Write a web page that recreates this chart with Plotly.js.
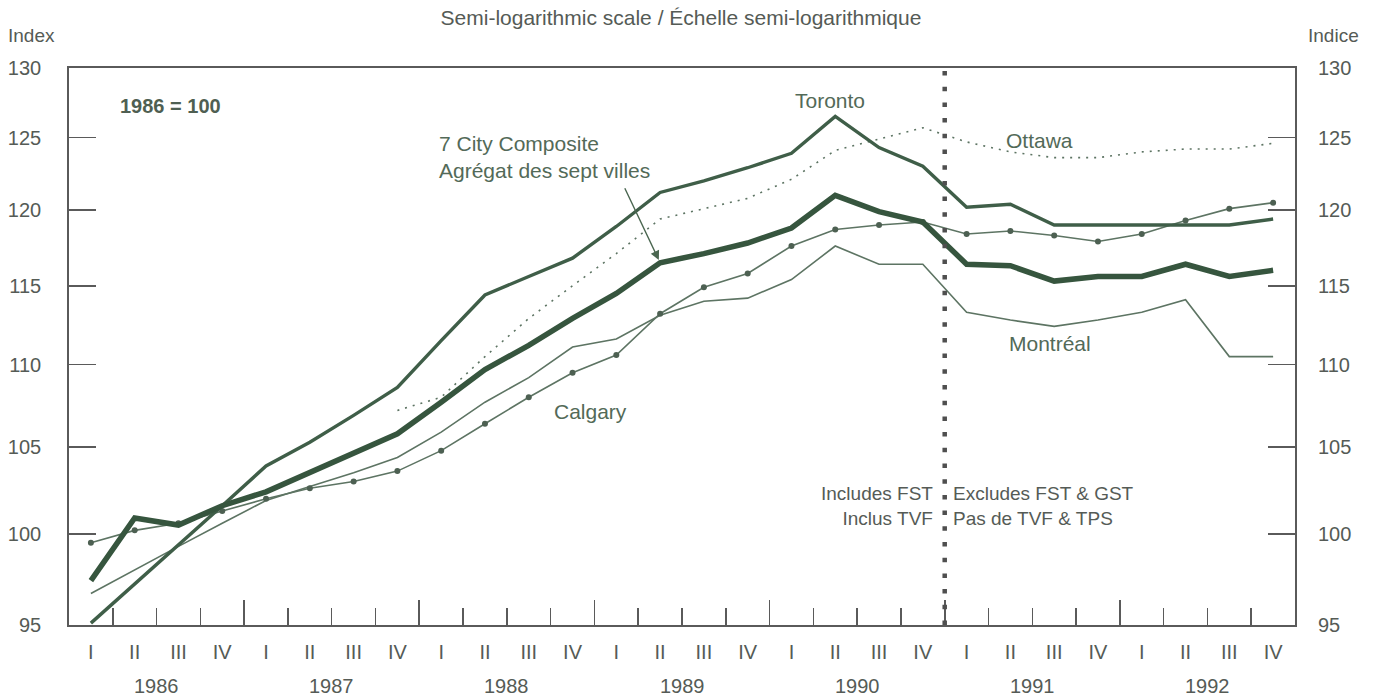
<!DOCTYPE html>
<html>
<head>
<meta charset="utf-8">
<script src="https://cdn.plot.ly/plotly-3.0.1.min.js"></script>
<style>
  html, body { margin: 0; padding: 0; background: #ffffff; }
  #chart { width: 1378px; height: 696px; }
</style>
</head>
<body>
<div id="chart"></div>
<script>
// ---- Data (quarterly, 1986 I .. 1992 IV; 1986 = 100) ----
const years = ['1986', '1987', '1988', '1989', '1990', '1991', '1992'];
const quarterNames = ['I', 'II', 'III', 'IV'];

const toronto   = [95.1, 97.2, 99.4, 101.6, 103.9, 105.3, 106.9, 108.6, 111.5, 114.4, 115.6, 116.8, 118.9, 121.2,
                   122.0, 122.9, 123.9, 126.5, 124.3, 123.0, 120.2, 120.4, 119.0, 119.0, 119.0, 119.0, 119.0, 119.4];
const composite = [97.4, 100.9, 100.5, 101.6, 102.4, 103.5, 104.6, 105.8, 107.7, 109.7, 111.2, 112.9, 114.5, 116.5,
                   117.1, 117.8, 118.8, 121.0, 119.9, 119.2, 116.4, 116.3, 115.3, 115.6, 115.6, 116.4, 115.6, 116.0];
const ottawa    = [null, null, null, null, null, null, null, 107.2, 108.0, 110.5, 112.9, 115.0, 117.1, 119.4,
                   120.1, 120.8, 122.1, 124.1, 124.9, 125.7, 124.7, 124.0, 123.6, 123.6, 124.0, 124.2, 124.2, 124.6];
const calgary   = [99.5, 100.2, 100.6, 101.3, 102.0, 102.6, 103.0, 103.6, 104.8, 106.4, 108.0, 109.5, 110.6, 113.2,
                   114.9, 115.8, 117.6, 118.7, 119.0, 119.2, 118.4, 118.6, 118.3, 117.9, 118.4, 119.3, 120.1, 120.5];
const montreal  = [96.7, 98.0, 99.3, 100.6, 101.9, 102.7, 103.5, 104.4, 105.9, 107.7, 109.2, 111.1, 111.6, 113.1,
                   114.0, 114.2, 115.4, 117.6, 116.4, 116.4, 113.3, 112.8, 112.4, 112.8, 113.3, 114.1, 110.5, 110.5];

const yTicks = [95, 100, 105, 110, 115, 120, 125, 130];

// ---- Derived positions ----
const xIdx = toronto.map((_, i) => i);
const quarterLabels = xIdx.map(i => quarterNames[i % 4]);
const boundaries = xIdx.slice(0, xIdx.length - 1).map(i => i + 0.5);
const yearBoundaries = years.slice(0, years.length - 1).map((_, j) => 4 * j + 3.5);
const taxBreak = 19.5; // between 1990 IV and 1991 I

const FONT = 'Liberation Sans, Arial, Helvetica, sans-serif';
const TXT = '#555b56';
const LBL = '#536a58';
const DARK = '#36553e';
const THIN = '#5d7463';
const AX = '#5a5a5a';
const xr = [-0.5, xIdx.length - 0.5];
const yr = [Math.log10(95), Math.log10(130)];

const traces = [
  { x: xIdx, y: montreal, type: 'scatter', mode: 'lines', name: 'Montréal',
    line: { color: THIN, width: 1.6 }, hoverinfo: 'skip' },
  { x: xIdx, y: calgary, type: 'scatter', mode: 'lines+markers', name: 'Calgary',
    line: { color: THIN, width: 1.6 }, marker: { color: '#4d6052', size: 6 }, hoverinfo: 'skip' },
  { x: xIdx, y: ottawa, type: 'scatter', mode: 'lines', name: 'Ottawa',
    line: { color: THIN, width: 1.6, dash: '2px,6px' }, hoverinfo: 'skip' },
  { x: xIdx, y: toronto, type: 'scatter', mode: 'lines', name: 'Toronto',
    line: { color: '#3f5e48', width: 3.4 }, hoverinfo: 'skip' },
  { x: xIdx, y: composite, type: 'scatter', mode: 'lines', name: '7 City Composite',
    line: { color: DARK, width: 5.5 }, hoverinfo: 'skip' },
  // carriers for the extra tick axes
  { x: [null], y: [null], xaxis: 'x2', yaxis: 'y', type: 'scatter', mode: 'lines', showlegend: false, hoverinfo: 'skip' },
  { x: [null], y: [null], xaxis: 'x3', yaxis: 'y', type: 'scatter', mode: 'lines', showlegend: false, hoverinfo: 'skip' },
  { x: [null], y: [null], xaxis: 'x', yaxis: 'y2', type: 'scatter', mode: 'lines', showlegend: false, hoverinfo: 'skip' }
];

const yCommon = {
  type: 'log', range: yr, tickvals: yTicks, ticktext: yTicks.map(String),
  ticks: 'inside', ticklen: 27, tickwidth: 1.6, tickcolor: AX,
  showgrid: false, zeroline: false, fixedrange: true,
  tickfont: { family: FONT, size: 20, color: TXT }
};

const annotations = [];
years.forEach((yLabel, j) => {
  annotations.push({ x: 4 * j + 1.5, xref: 'x', y: -0.11, yref: 'paper', text: yLabel, showarrow: false,
    xanchor: 'center', yanchor: 'middle', font: { family: FONT, size: 20, color: TXT } });
});
annotations.push(
  { x: -0.0515, y: 1.058, xref: 'paper', yref: 'paper', text: 'Index', showarrow: false,
    xanchor: 'left', yanchor: 'middle', font: { family: FONT, size: 19, color: TXT } },
  { x: 1.054, y: 1.058, xref: 'paper', yref: 'paper', text: 'Indice', showarrow: false,
    xanchor: 'right', yanchor: 'middle', font: { family: FONT, size: 19, color: TXT } },
  { x: 0.0400, y: 0.932, xref: 'paper', yref: 'paper', text: '<b>1986 = 100</b>', showarrow: false,
    xanchor: 'left', yanchor: 'middle', font: { family: FONT, size: 20, color: '#4f5f52' } },
  { x: 0.300, y: 0.841, xref: 'paper', yref: 'paper',
    text: '7 City Composite<br>Agrégat des sept villes', align: 'left', showarrow: false,
    xanchor: 'left', yanchor: 'middle', font: { family: FONT, size: 21, color: LBL } },
  { x: 13, y: Math.log10(composite[13]), xref: 'x', yref: 'y', text: '', showarrow: true,
    ax: -36, ay: -76, arrowhead: 2, arrowsize: 1.3, arrowwidth: 1.4, arrowcolor: '#4a6650', standoff: 3 },
  { x: 0.6207, y: 0.9425, xref: 'paper', yref: 'paper', text: 'Toronto', showarrow: false,
    xanchor: 'center', yanchor: 'middle', font: { family: FONT, size: 21, color: LBL } },
  { x: 0.792, y: 0.869, xref: 'paper', yref: 'paper', text: 'Ottawa', showarrow: false,
    xanchor: 'center', yanchor: 'middle', font: { family: FONT, size: 21, color: LBL } },
  { x: 0.425, y: 0.384, xref: 'paper', yref: 'paper', text: 'Calgary', showarrow: false,
    xanchor: 'center', yanchor: 'middle', font: { family: FONT, size: 21, color: LBL } },
  { x: 0.800, y: 0.506, xref: 'paper', yref: 'paper', text: 'Montréal', showarrow: false,
    xanchor: 'center', yanchor: 'middle', font: { family: FONT, size: 21, color: LBL } },
  { x: 0.7064, y: 0.214, xref: 'paper', yref: 'paper', text: 'Includes FST<br>Inclus TVF', align: 'right',
    showarrow: false, xanchor: 'right', yanchor: 'middle', font: { family: FONT, size: 19, color: TXT } },
  { x: 0.7194, y: 0.214, xref: 'paper', yref: 'paper', text: 'Excludes FST &amp; GST<br>Pas de TVF &amp; TPS', align: 'left',
    showarrow: false, xanchor: 'left', yanchor: 'middle', font: { family: FONT, size: 19, color: TXT } }
);

const layout = {
  width: 1378, height: 696,
  margin: { l: 69, r: 83, t: 68, b: 71, pad: 0 },
  paper_bgcolor: '#ffffff', plot_bgcolor: '#ffffff',
  showlegend: false,
  title: { text: 'Semi-logarithmic scale / Échelle semi-logarithmique', x: 681 / 1378, xanchor: 'center',
           y: 1 - 18 / 696, yanchor: 'middle', yref: 'container',
           font: { family: FONT, size: 21, color: TXT } },
  xaxis: {
    range: xr, tickvals: xIdx, ticktext: quarterLabels, ticks: '', ticklabelstandoff: 8,
    showline: true, linecolor: AX, linewidth: 1.8, mirror: true,
    showgrid: false, zeroline: false, fixedrange: true,
    tickfont: { family: FONT, size: 20, color: TXT }
  },
  xaxis2: {
    overlaying: 'x', anchor: 'y', range: xr, tickvals: boundaries, ticks: 'inside', ticklen: 17,
    tickwidth: 1.5, tickcolor: AX, showticklabels: false, showline: false, showgrid: false, zeroline: false
  },
  xaxis3: {
    overlaying: 'x', anchor: 'y', range: xr, tickvals: yearBoundaries, ticks: 'inside', ticklen: 25,
    tickwidth: 1.6, tickcolor: AX, showticklabels: false, showline: false, showgrid: false, zeroline: false
  },
  yaxis: Object.assign({}, yCommon, {
    showline: true, linecolor: AX, linewidth: 1.8, mirror: true, ticklabelstandoff: 22
  }),
  yaxis2: Object.assign({}, yCommon, {
    overlaying: 'y', side: 'right', anchor: 'x', showline: false, ticklabelstandoff: 22
  }),
  shapes: [
    { type: 'line', xref: 'x', yref: 'paper', x0: taxBreak, x1: taxBreak, y0: 0, y1: 1,
      line: { color: '#4f4f4f', width: 4.5, dash: '4.5px,11.2px' } }
  ],
  annotations: annotations
};

Plotly.newPlot('chart', traces, layout, { staticPlot: true, displayModeBar: false });
</script>
</body>
</html>
